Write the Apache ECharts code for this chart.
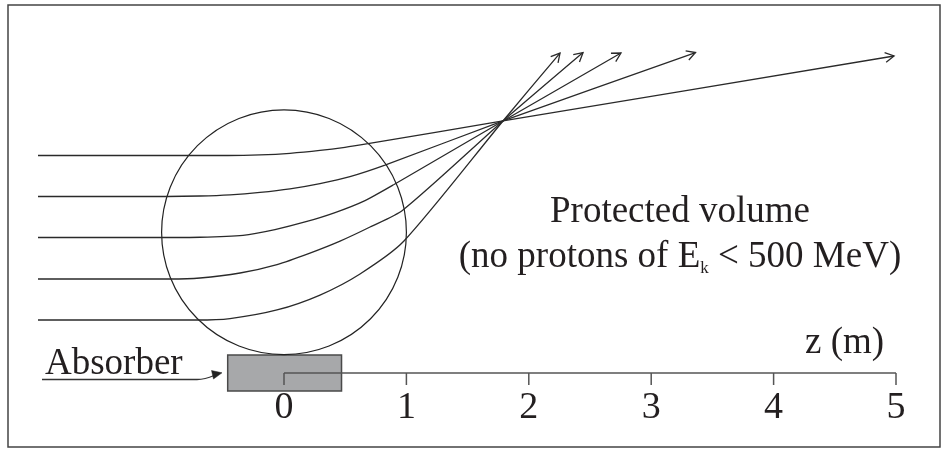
<!DOCTYPE html>
<html><head><meta charset="utf-8">
<script src="https://cdn.jsdelivr.net/npm/echarts@6/dist/echarts.min.js"></script>
<style>html,body{margin:0;padding:0;background:#fff}#c{width:947px;height:449px}</style>
</head><body><div id="c"></div>
<script>
// z axis ticks (m)
const tickValues = [0, 1, 2, 3, 4, 5];
const tickLabels = ['0', '1', '2', '3', '4', '5'];
const axisLineData = [[0, 0], [5, 0]];

// proton trajectories [z (m), height (m)]
const track1 = [[-2.01,1.777],[-0.458,1.777],[-0.196,1.782],[0.049,1.795],[0.294,1.818],[0.498,1.844],[0.686,1.874],[1.789,2.059],[4.984,2.590]];
const track2 = [[-2.01,1.442],[-0.956,1.442],[-0.686,1.446],[-0.441,1.456],[-0.196,1.476],[0.049,1.505],[0.294,1.548],[0.539,1.605],[0.825,1.699],[1.789,2.059],[3.362,2.618]];
const track3 = [[-2.01,1.107],[-1.013,1.107],[-0.686,1.109],[-0.335,1.125],[-0.074,1.172],[0.172,1.234],[0.417,1.311],[0.662,1.409],[0.899,1.540],[1.789,2.059],[2.753,2.614]];
const track4 = [[-2.01,0.768],[-0.931,0.768],[-0.686,0.776],[-0.359,0.817],[-0.057,0.886],[0.212,0.980],[0.458,1.078],[0.703,1.193],[0.972,1.332],[1.789,2.059],[2.443,2.618]];
const track5 = [[-2.01,0.433],[-0.711,0.433],[-0.441,0.445],[-0.057,0.515],[0.294,0.637],[0.621,0.809],[0.980,1.078],[1.789,2.059],[2.255,2.614]];

// magnet region: centre z, centre height, radius (m)
const magnet = [[0, 1.15, 1.0]];
// absorber: z min, height min, z max, height max (m)
const absorber = [[-0.46, -0.147, 0.47, 0.147]];

const tracks = [track1, track2, track3, track4, track5];
const FONT = '"Liberation Serif", "Times New Roman", serif';
const INK = '#231f20';

const series = [];

series.push({
  type: 'custom', z: 2, silent: true, clip: false,
  data: absorber,
  renderItem: function (params, api) {
    const p0 = api.coord([api.value(0), api.value(3)]);
    const p1 = api.coord([api.value(2), api.value(1)]);
    return { type: 'rect', shape: { x: p0[0], y: p0[1], width: p1[0] - p0[0], height: p1[1] - p0[1] },
      style: { fill: '#a7a8aa', stroke: '#4a4a4a', lineWidth: 1.5 } };
  }
});

series.push({
  type: 'line', z: 3, silent: true, data: axisLineData, symbol: 'none',
  lineStyle: { color: '#555', width: 1.5 }
});

series.push({
  type: 'custom', z: 3, silent: true, clip: false,
  data: tickValues.map(function (v, i) { return [v, 0, i]; }),
  renderItem: function (params, api) {
    const p = api.coord([api.value(0), api.value(1)]);
    const lab = tickLabels[api.value(2)];
    return { type: 'group', children: [
      { type: 'line', shape: { x1: p[0], y1: p[1], x2: p[0], y2: p[1] + 12 }, style: { stroke: '#555', lineWidth: 1.5 } },
      { type: 'text', style: { x: p[0], y: p[1] + 35, text: lab, font: '38px ' + FONT, fill: INK,
        align: 'center', verticalAlign: 'middle', textAlign: 'center', textVerticalAlign: 'middle' } }
    ] };
  }
});

series.push({
  type: 'custom', z: 4, silent: true, clip: false,
  data: magnet,
  renderItem: function (params, api) {
    const c = api.coord([api.value(0), api.value(1)]);
    const r = api.size([api.value(2), 0])[0];
    return { type: 'circle', shape: { cx: c[0], cy: c[1], r: r },
      style: { fill: 'none', stroke: '#222', lineWidth: 1.2 } };
  }
});

tracks.forEach(function (t) {
  series.push({
    type: 'line', z: 5, silent: true, data: t, symbol: 'none', smooth: 0.25,
    lineStyle: { color: '#2a2a2a', width: 1.3 }
  });
});

series.push({
  type: 'custom', z: 6, silent: true, clip: false,
  data: tracks.map(function (t) {
    const a = t[t.length - 1], b = t[t.length - 2];
    return [a[0], a[1], b[0], b[1]];
  }),
  renderItem: function (params, api) {
    const p = api.coord([api.value(0), api.value(1)]);
    const q = api.coord([api.value(2), api.value(3)]);
    const ang = Math.atan2(p[1] - q[1], p[0] - q[0]);
    const L = 10, phi = 0.5;
    const a1 = [p[0] - L * Math.cos(ang - phi), p[1] - L * Math.sin(ang - phi)];
    const a2 = [p[0] - L * Math.cos(ang + phi), p[1] - L * Math.sin(ang + phi)];
    return { type: 'polyline', shape: { points: [a1, p, a2] },
      style: { fill: 'none', stroke: '#2a2a2a', lineWidth: 1.3 } };
  }
});

const chart = echarts.init(document.getElementById('c'), null, { renderer: 'canvas' });
chart.setOption({
  animation: false,
  backgroundColor: '#fff',
  grid: { left: 8, top: 5, width: 932, height: 442, show: true, borderColor: '#444', borderWidth: 1.5, backgroundColor: 'transparent' },
  xAxis: { type: 'value', min: -276 / 122.4, max: 656 / 122.4, show: false },
  yAxis: { type: 'value', min: -74 / 122.4, max: 368 / 122.4, show: false },
  graphic: [
    { type: 'text', x: 680, y: 212.5, silent: true,
      style: { text: 'Protected volume', font: '37px ' + FONT, fill: INK, align: 'center', verticalAlign: 'middle', textAlign: 'center', textVerticalAlign: 'middle' } },
    { type: 'text', x: 680, y: 257.5, silent: true,
      style: { text: '{a|(no protons of E}{s|k}{a| < 500 MeV)}', fill: INK, align: 'center', verticalAlign: 'middle', textAlign: 'center', textVerticalAlign: 'middle',
        rich: { a: { font: '37px ' + FONT, fill: INK, lineHeight: 40 }, s: { font: '17px ' + FONT, fill: INK, lineHeight: 14, verticalAlign: 'bottom' } } } },
    { type: 'text', x: 805, y: 343.5, silent: true,
      style: { text: 'z (m)', font: '37px ' + FONT, fill: INK, align: 'left', verticalAlign: 'middle', textAlign: 'left', textVerticalAlign: 'middle' } },
    { type: 'text', x: 45, y: 364.5, silent: true,
      style: { text: 'Absorber', font: '37px ' + FONT, fill: INK, align: 'left', verticalAlign: 'middle', textAlign: 'left', textVerticalAlign: 'middle' } },
    { type: 'polyline', silent: true, shape: { points: [[42, 379.5], [197, 379.5]] }, style: { fill: 'none', stroke: '#333', lineWidth: 1.3 } },
    { type: 'bezierCurve', silent: true, shape: { x1: 197, y1: 379.5, cpx1: 205, cpy1: 379.5, x2: 214, y2: 375.5 }, style: { fill: 'none', stroke: '#333', lineWidth: 1.3 } },
    { type: 'polygon', silent: true, shape: { points: [[222, 372.8], [211.5, 370.5], [213.5, 379]] }, style: { fill: '#222', stroke: '#222', lineWidth: 0.5 } }
  ],
  series: series
});
</script></body></html>
